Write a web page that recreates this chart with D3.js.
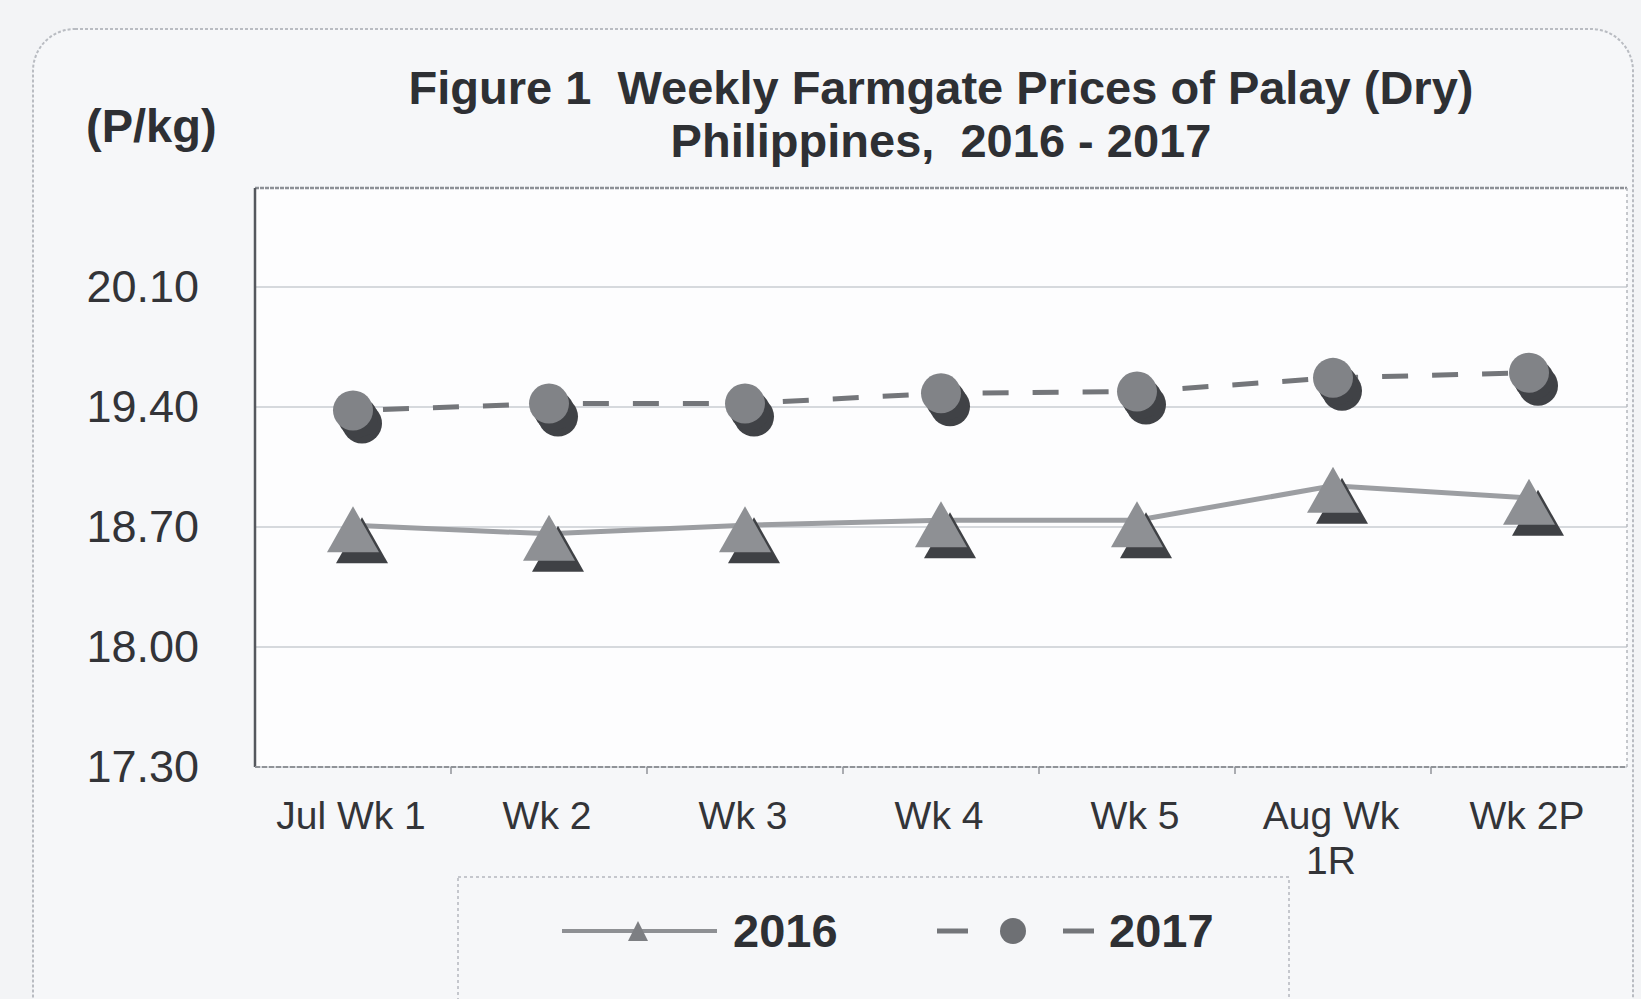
<!DOCTYPE html>
<html>
<head>
<meta charset="utf-8">
<script src="https://cdn.jsdelivr.net/npm/d3@7"></script>
<style>
  body { margin: 0; background: #f3f4f6; }
  svg { display: block; font-family: "Liberation Sans", Arial, sans-serif; }
  text { white-space: pre; }
</style>
</head>
<body>
<svg id="chart"></svg>
<script>
// chart data
var categories = ["Jul Wk 1", "Wk 2", "Wk 3", "Wk 4", "Wk 5", "Aug Wk 1R", "Wk 2P"];
var categoryLines = [["Jul Wk 1"], ["Wk 2"], ["Wk 3"], ["Wk 4"], ["Wk 5"], ["Aug Wk", "1R"], ["Wk 2P"]];
var prices2016 = [18.71, 18.66, 18.71, 18.74, 18.74, 18.94, 18.87];
var prices2017 = [19.38, 19.42, 19.42, 19.48, 19.49, 19.57, 19.60];
var yTicks = [17.30, 18.00, 18.70, 19.40, 20.10];
var seriesNames = ["2016", "2017"];

var width = 1641, height = 999;
var plotLeft = 255, plotRight = 1627, plotTop = 188, plotBottom = 767;

var svg = d3.select('#chart')
    .attr("width", width)
    .attr("height", height);

// outer frame (rounded, faint dotted)
svg.append("rect")
    .attr("x", 33).attr("y", 29)
    .attr("width", 1600).attr("height", 1010)
    .attr("rx", 42)
    .attr("fill", "#f6f7f9")
    .attr("stroke", "#b9bcc2")
    .attr("stroke-width", 2)
    .attr("stroke-dasharray", "3 2");

var xScale = d3.scaleBand()
    .domain(categories)
    .range([plotLeft, plotRight]);

var yScale = d3.scaleLinear()
    .domain([17.30, 20.10])
    .range([plotBottom, 287]);

// plot area
svg.append("rect")
    .attr("x", plotLeft).attr("y", plotTop)
    .attr("width", plotRight - plotLeft).attr("height", plotBottom - plotTop)
    .attr("fill", "#fdfdfe");

// gridlines
svg.append("g")
    .selectAll("line")
    .data(yTicks)
    .enter()
    .append("line")
    .attr("x1", plotLeft).attr("x2", plotRight)
    .attr("y1", function (d) { return yScale(d); })
    .attr("y2", function (d) { return yScale(d); })
    .attr("stroke", "#c9ccd2")
    .attr("stroke-width", 1.5);

// plot border
svg.append("line")
    .attr("x1", plotLeft).attr("x2", plotRight).attr("y1", plotTop).attr("y2", plotTop)
    .attr("stroke", "#8d9096").attr("stroke-width", 2.5).attr("stroke-dasharray", "4 1");
svg.append("line")
    .attr("x1", plotRight).attr("x2", plotRight).attr("y1", plotTop).attr("y2", plotBottom)
    .attr("stroke", "#b4b7bc").attr("stroke-width", 1.5).attr("stroke-dasharray", "3 3");

// y axis
var y_axis = d3.axisLeft(yScale)
    .tickValues(yTicks)
    .tickSize(0)
    .tickPadding(56)
    .tickFormat(d3.format(".2f"));

var gy = svg.append("g")
    .attr("transform", "translate(" + plotLeft + ",0)")
    .call(y_axis);
gy.select(".domain")
    .attr("d", "M0," + plotTop + "V" + plotBottom)
    .attr("stroke", "#55585e").attr("stroke-width", 2.5);
gy.selectAll("text")
    .attr("font-size", 45)
    .attr("fill", "#333438")
    .attr("font-family", "Liberation Sans, Arial, sans-serif");

// x axis
var x_axis = d3.axisBottom(xScale)
    .tickSize(0)
    .tickFormat("");
var gx = svg.append("g")
    .attr("transform", "translate(0," + plotBottom + ")")
    .call(x_axis);
gx.select(".domain")
    .attr("d", "M" + plotLeft + ",0H" + plotRight)
    .attr("stroke", "#909398").attr("stroke-width", 2).attr("stroke-dasharray", "5 2");

// tick marks between categories
svg.append("g")
    .selectAll("line")
    .data(categories.slice(1))
    .enter()
    .append("line")
    .attr("x1", function (d) { return xScale(d); })
    .attr("x2", function (d) { return xScale(d); })
    .attr("y1", plotBottom).attr("y2", plotBottom + 7)
    .attr("stroke", "#909398").attr("stroke-width", 1.5);

var xLabels = svg.append("g")
    .selectAll("text")
    .data(categories)
    .enter()
    .append("text")
    .attr("text-anchor", "middle")
    .attr("font-size", 39)
    .attr("fill", "#333438")
    .attr("x", function (d) { return xScale(d) + xScale.bandwidth() / 2 - 2; })
    .attr("y", 829);
xLabels.each(function (d, i) {
    var t = d3.select(this);
    categoryLines[i].forEach(function (line, j) {
        t.append("tspan")
            .attr("x", xScale(d) + xScale.bandwidth() / 2 - 2)
            .attr("dy", j === 0 ? 0 : 45)
            .text(line);
    });
});

// titles
svg.append("text")
    .attr("x", 941).attr("y", 104)
    .attr("text-anchor", "middle")
    .attr("font-size", 47).attr("font-weight", "bold")
    .attr("fill", "#2e3034")
    .text("Figure 1  Weekly Farmgate Prices of Palay (Dry)");
svg.append("text")
    .attr("x", 941).attr("y", 157)
    .attr("text-anchor", "middle")
    .attr("font-size", 47).attr("font-weight", "bold")
    .attr("fill", "#2e3034")
    .text("Philippines,  2016 - 2017");
svg.append("text")
    .attr("x", 86).attr("y", 142)
    .attr("font-size", 47).attr("font-weight", "bold")
    .attr("fill", "#2e3034")
    .text("(P/kg)");

// lines
var cx = function (d, i) { return xScale(categories[i]) + xScale.bandwidth() / 2; };
var line = d3.line()
    .x(function (d, i) { return cx(d, i); })
    .y(function (d) { return yScale(d); });

svg.append("path")
    .datum(prices2016)
    .attr("d", line)
    .attr("fill", "none")
    .attr("stroke", "#9c9ea2")
    .attr("stroke-width", 5);

svg.append("path")
    .datum(prices2017)
    .attr("d", line)
    .attr("fill", "none")
    .attr("stroke", "#74767a")
    .attr("stroke-width", 5)
    .attr("stroke-dasharray", "26 24")
    .attr("stroke-dashoffset", -30);

// triangle markers with shadow
function triPath(x, y, w, h) {
    return "M" + x + "," + (y - h * 0.5) + "L" + (x + w / 2) + "," + (y + h * 0.5) +
        "L" + (x - w / 2) + "," + (y + h * 0.5) + "Z";
}
var tri = svg.append("g").selectAll("g")
    .data(prices2016)
    .enter()
    .append("g");
tri.append("path")
    .attr("d", function (d, i) { return triPath(cx(d, i) + 9, yScale(d) + 15, 52, 46); })
    .attr("fill", "#3f4145");
tri.append("path")
    .attr("d", function (d, i) { return triPath(cx(d, i), yScale(d) + 4, 52, 46); })
    .attr("fill", "#8e9094");

// circle markers with shadow
var circ = svg.append("g").selectAll("g")
    .data(prices2017)
    .enter()
    .append("g");
[[9, 13], [5, 7]].forEach(function (o) {
    circ.append("circle")
        .attr("cx", function (d, i) { return cx(d, i) + o[0]; })
        .attr("cy", function (d) { return yScale(d) + o[1]; })
        .attr("r", 20)
        .attr("fill", "#404246");
});
circ.append("circle")
    .attr("cx", function (d, i) { return cx(d, i); })
    .attr("cy", function (d) { return yScale(d); })
    .attr("r", 20)
    .attr("fill", "#818387");

// legend
svg.append("rect")
    .attr("x", 458).attr("y", 877)
    .attr("width", 831).attr("height", 140)
    .attr("fill", "#f6f7f9")
    .attr("stroke", "#b5b8be").attr("stroke-width", 1.5).attr("stroke-dasharray", "3 3");

svg.append("line")
    .attr("x1", 562).attr("x2", 717).attr("y1", 931).attr("y2", 931)
    .attr("stroke", "#8e9094").attr("stroke-width", 4);
svg.append("path")
    .attr("d", triPath(638, 931, 20, 20))
    .attr("fill", "#7d7f83");
svg.append("line")
    .attr("x1", 937).attr("x2", 968).attr("y1", 931).attr("y2", 931)
    .attr("stroke", "#74767a").attr("stroke-width", 5);
svg.append("line")
    .attr("x1", 1063).attr("x2", 1094).attr("y1", 931).attr("y2", 931)
    .attr("stroke", "#74767a").attr("stroke-width", 5);
svg.append("circle")
    .attr("cx", 1013).attr("cy", 931).attr("r", 13)
    .attr("fill", "#6e7074");

svg.append("g")
    .selectAll("text")
    .data(seriesNames)
    .enter()
    .append("text")
    .attr("x", function (d, i) { return i === 0 ? 733 : 1109; })
    .attr("y", 947)
    .attr("font-size", 47).attr("font-weight", "bold")
    .attr("fill", "#2e3034")
    .text(function (d) { return d; });
</script>
</body>
</html>
